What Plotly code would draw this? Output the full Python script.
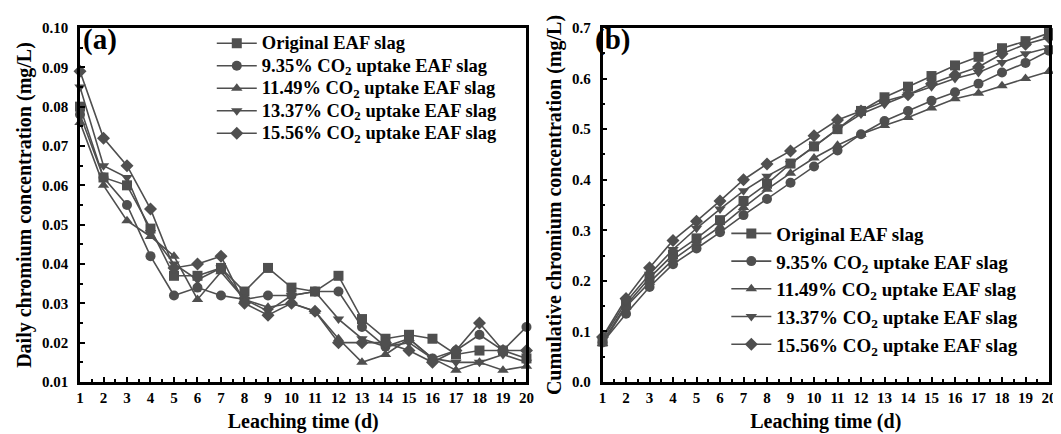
import plotly.graph_objects as go
from plotly.subplots import make_subplots

days = list(range(1, 21))

series_names = [
    "Original EAF slag",
    "9.35% CO<sub>2</sub> uptake EAF slag",
    "11.49% CO<sub>2</sub> uptake EAF slag",
    "13.37% CO<sub>2</sub> uptake EAF slag",
    "15.56% CO<sub>2</sub> uptake EAF slag",
]
symbols = ["square", "circle", "triangle-up", "triangle-down", "diamond"]

# Panel (a): daily chromium concentration (mg/L)
daily_original = [0.080, 0.062, 0.060, 0.049, 0.037, 0.037, 0.039, 0.033, 0.039, 0.034,
                  0.033, 0.037, 0.026, 0.021, 0.022, 0.021, 0.017, 0.018, 0.018, 0.016]
daily_935 = [0.078, 0.062, 0.055, 0.042, 0.032, 0.034, 0.032, 0.031, 0.032, 0.032,
             0.033, 0.033, 0.024, 0.019, 0.021, 0.016, 0.018, 0.022, 0.018, 0.024]
daily_1149 = [0.076, 0.060, 0.051, 0.047, 0.042, 0.031, 0.038, 0.031, 0.029, 0.030,
              0.028, 0.021, 0.015, 0.017, 0.021, 0.016, 0.013, 0.015, 0.013, 0.014]
daily_1337 = [0.085, 0.065, 0.062, 0.048, 0.040, 0.036, 0.039, 0.031, 0.028, 0.032,
              0.033, 0.026, 0.021, 0.019, 0.020, 0.016, 0.015, 0.015, 0.017, 0.015]
daily_1556 = [0.089, 0.072, 0.065, 0.054, 0.039, 0.040, 0.042, 0.030, 0.027, 0.030,
              0.028, 0.020, 0.020, 0.020, 0.018, 0.015, 0.018, 0.025, 0.018, 0.018]

# Panel (b): cumulative chromium concentration (mg/L)
cum_original = [0.080, 0.152, 0.206, 0.252, 0.284, 0.320, 0.358, 0.392, 0.432, 0.466,
                0.500, 0.536, 0.563, 0.584, 0.605, 0.626, 0.643, 0.660, 0.674, 0.690]
cum_935 = [0.078, 0.135, 0.188, 0.233, 0.264, 0.296, 0.330, 0.362, 0.394, 0.426,
           0.458, 0.490, 0.516, 0.536, 0.556, 0.573, 0.590, 0.612, 0.631, 0.655]
cum_1149 = [0.076, 0.149, 0.197, 0.242, 0.275, 0.307, 0.345, 0.381, 0.413, 0.443,
            0.468, 0.490, 0.507, 0.523, 0.542, 0.560, 0.571, 0.586, 0.600, 0.614]
cum_1337 = [0.085, 0.158, 0.213, 0.262, 0.304, 0.342, 0.378, 0.407, 0.432, 0.465,
            0.500, 0.530, 0.549, 0.568, 0.584, 0.600, 0.612, 0.632, 0.649, 0.661]
cum_1556 = [0.089, 0.165, 0.226, 0.280, 0.318, 0.358, 0.400, 0.431, 0.457, 0.487,
            0.518, 0.536, 0.555, 0.568, 0.590, 0.607, 0.623, 0.649, 0.668, 0.681]

daily = [daily_original, daily_935, daily_1149, daily_1337, daily_1556]
cumulative = [cum_original, cum_935, cum_1149, cum_1337, cum_1556]

COLOR = "#4f4f4f"
FONT = "Liberation Serif, Times New Roman, serif"

fig = make_subplots(rows=1, cols=2, horizontal_spacing=0.0785)

for i in range(5):
    fig.add_trace(go.Scatter(
        x=days, y=daily[i],
        name='<span style="font-size:18.5px">' + series_names[i] + "</span>",
        mode="lines+markers",
        line=dict(color=COLOR, width=1.6),
        marker=dict(symbol=symbols[i], size=10, color=COLOR),
        cliponaxis=False, legend="legend"), row=1, col=1)
for i in range(5):
    fig.add_trace(go.Scatter(
        x=days, y=cumulative[i], name=series_names[i], mode="lines+markers",
        line=dict(color=COLOR, width=1.6),
        marker=dict(symbol=symbols[i], size=10, color=COLOR),
        cliponaxis=False, legend="legend2"), row=1, col=2)

axis_common = dict(
    showline=True, linecolor="black", linewidth=2.5, mirror=True,
    ticks="inside", ticklen=5, tickwidth=2, tickcolor="black",
    showgrid=False, zeroline=False,
    tickfont=dict(family=FONT, size=15, color="black", weight="bold"),
    title_font=dict(family=FONT, size=20, color="black", weight="bold"),
)

fig.update_xaxes(**axis_common, range=[1, 20], dtick=1, tick0=1,
                 minor=dict(ticks="inside", ticklen=3, tickwidth=2, dtick=0.5, tick0=1, tickcolor="black"),
                 title_text="Leaching time (d)", title_standoff=10)
fig.update_yaxes(**axis_common, ticklabelstandoff=6)
fig.update_yaxes(range=[0.01, 0.10], dtick=0.01, tick0=0.01, tickformat=".2f",
                 minor=dict(ticks="inside", ticklen=3, tickwidth=2, dtick=0.005, tickcolor="black"),
                 title_text="Daily chromium concentration (mg/L)", title_standoff=6,
                 row=1, col=1)
fig.update_yaxes(range=[0, 0.7], dtick=0.1, tick0=0, tickformat=".1f",
                 minor=dict(ticks="inside", ticklen=3, tickwidth=2, dtick=0.05, tickcolor="black"),
                 title_text="Cumulative chromium concentration (mg/L)", title_standoff=6,
                 row=1, col=2)

fig.update_layout(
    width=1061, height=434,
    margin=dict(l=72, r=20, t=15, b=57),
    plot_bgcolor="white", paper_bgcolor="white",
    font=dict(family=FONT, size=15, color="black", weight="bold"),
    legend=dict(x=0.136, y=1.003, xanchor="left", yanchor="top",
                bgcolor="rgba(0,0,0,0)",
                font=dict(family=FONT, size=15, color="black", weight="bold"),
                tracegroupgap=0, itemwidth=40),
    legend2=dict(x=0.667, y=0.473, xanchor="left", yanchor="top",
                 bgcolor="rgba(0,0,0,0)",
                 font=dict(family=FONT, size=19, color="black", weight="bold"),
                 tracegroupgap=0, itemwidth=40),
    annotations=[
        dict(text="(a)", xref="paper", yref="paper", x=0.001, y=1.02, xanchor="left", yanchor="top",
             showarrow=False, font=dict(family=FONT, size=29, color="black", weight="bold")),
        dict(text="(b)", xref="paper", yref="paper", x=0.529, y=1.02, xanchor="left", yanchor="top",
             showarrow=False, font=dict(family=FONT, size=29, color="black", weight="bold")),
    ],
)

fig.write_html("out.html")
